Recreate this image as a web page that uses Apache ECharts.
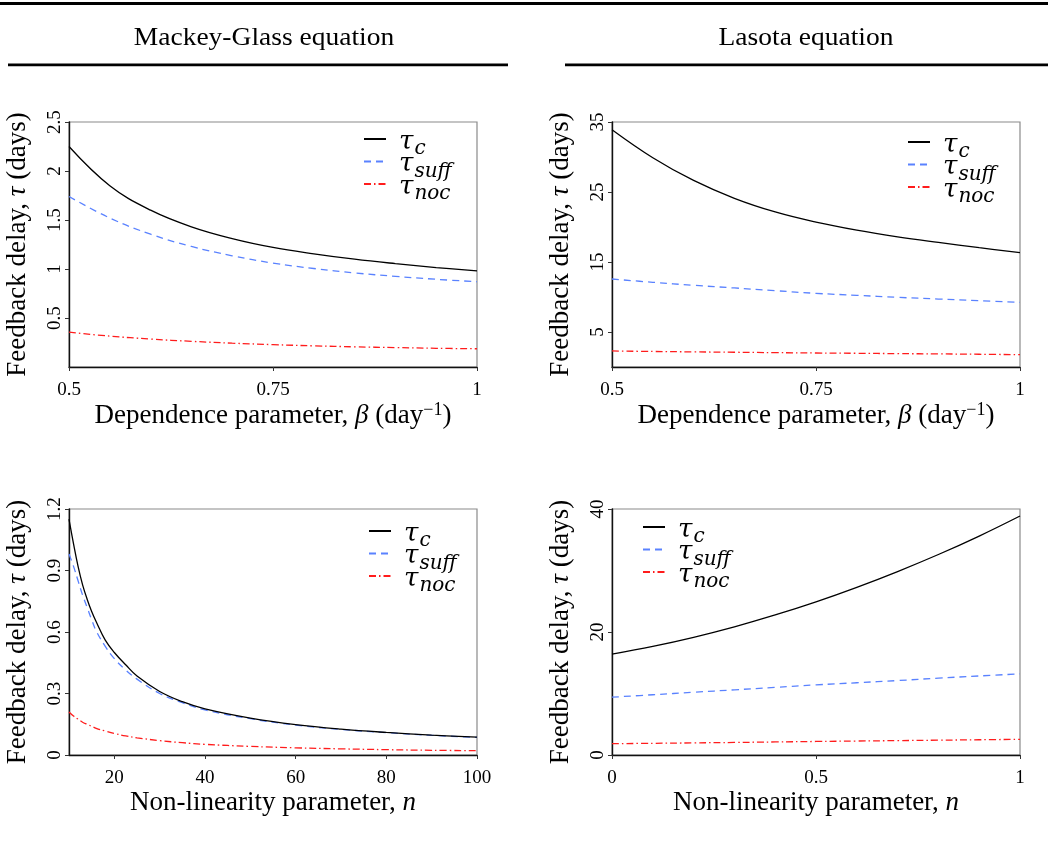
<!DOCTYPE html>
<html>
<head>
<meta charset="utf-8">
<script src="https://cdn.jsdelivr.net/npm/echarts@6/dist/echarts.min.js"></script>
<style>
html,body{margin:0;padding:0;background:#fff;}
#chart{width:1048px;height:851px;}
</style>
</head>
<body>
<div id="chart"></div>
<script>
// ---------- data ----------
const betaGrid = [0.5, 0.55, 0.6, 0.65, 0.7, 0.75, 0.8, 0.85, 0.9, 0.95, 1.0];
// Mackey-Glass vs beta
const mgBetaTauC    = [2.25, 1.85, 1.60, 1.43, 1.31, 1.22, 1.155, 1.10, 1.055, 1.015, 0.98];
const mgBetaTauSuff = [1.74, 1.52, 1.355, 1.23, 1.135, 1.06, 1.005, 0.96, 0.925, 0.895, 0.87];
const mgBetaTauNoc  = [0.355, 0.315, 0.285, 0.262, 0.243, 0.228, 0.216, 0.206, 0.198, 0.191, 0.186];
// Lasota vs beta
const laBetaTauC    = [33.9, 29.9, 26.65, 24.1, 22.15, 20.7, 19.55, 18.6, 17.8, 17.05, 16.35];
const laBetaTauSuff = [12.57, 12.1, 11.67, 11.29, 10.9, 10.52, 10.24, 9.95, 9.71, 9.48, 9.24];
const laBetaTauNoc  = [2.29, 2.22, 2.16, 2.11, 2.05, 2.0, 1.96, 1.91, 1.87, 1.82, 1.76];
// Mackey-Glass vs n
const nGridMG = [10, 11, 12, 13, 14, 15, 16, 18, 20, 22.5, 25, 30, 35, 40, 50, 60, 70, 80, 90, 100];
const mgNTauC    = [1.15, 1.03, 0.92, 0.83, 0.76, 0.70, 0.65, 0.56, 0.50, 0.44, 0.385, 0.31, 0.26, 0.225, 0.18, 0.148, 0.126, 0.11, 0.097, 0.087];
const mgNTauSuff = [0.98, 0.92, 0.85, 0.78, 0.72, 0.66, 0.605, 0.53, 0.47, 0.415, 0.37, 0.30, 0.255, 0.22, 0.177, 0.146, 0.125, 0.109, 0.096, 0.086];
const mgNTauNoc  = [0.21, 0.19, 0.175, 0.16, 0.15, 0.14, 0.13, 0.117, 0.105, 0.093, 0.084, 0.07, 0.06, 0.052, 0.042, 0.035, 0.03, 0.026, 0.023, 0.021];
// Lasota vs n
const nGridLa = [0, 0.1, 0.2, 0.3, 0.4, 0.5, 0.6, 0.7, 0.8, 0.9, 1.0];
const laNTauC    = [16.4, 17.66, 19.14, 20.84, 22.77, 24.9, 27.26, 29.83, 32.6, 35.6, 38.86];
const laNTauSuff = [9.4, 9.8, 10.2, 10.6, 11.0, 11.4, 11.75, 12.1, 12.5, 12.85, 13.2];
const laNTauNoc  = [1.84, 1.9, 1.97, 2.04, 2.12, 2.2, 2.27, 2.34, 2.41, 2.48, 2.55];

// tick labels
const ticksXBeta = [0.5, 0.75, 1];
const ticksYMGBeta = [0.5, 1, 1.5, 2, 2.5];
const ticksYLaBeta = [5, 15, 25, 35];
const ticksXMGN = [20, 40, 60, 80, 100];
const ticksYMGN = [0, 0.3, 0.6, 0.9, 1.2];
const ticksXLaN = [0, 0.5, 1];
const ticksYLaN = [0, 20, 40];

const headers = ['Mackey-Glass equation', 'Lasota equation'];
const seriesNames = ['c', 'suff', 'noc'];

// ---------- styling ----------
const SERIF = '"Liberation Serif", "DejaVu Serif", serif';
const MATH = '"DejaVu Serif", "Liberation Serif", serif';
const COLORS = ['#000000', '#5a82ff', '#ff1c1c'];
const DASHES = ['solid', [7, 5], [7, 3, 1.5, 3]];

const chart = echarts.init(document.getElementById('chart'), null, {renderer: 'canvas'});

const grids = [
  {left: 69, top: 122, width: 408, height: 245},
  {left: 612, top: 122, width: 408, height: 245},
  {left: 69, top: 509, width: 408, height: 246},
  {left: 612, top: 509, width: 408, height: 246}
];

const nameRichBase = {
  n: {fontFamily: SERIF, fontSize: 27, color: '#000', lineHeight: 30},
  i: {fontFamily: SERIF, fontSize: 27, fontStyle: 'italic', color: '#000', lineHeight: 30},
  sup: {fontFamily: SERIF, fontSize: 18, color: '#000', lineHeight: 12, verticalAlign: 'top'}
};

function xAxis(gi, min, max, ticks, name) {
  return {
    type: 'value', gridIndex: gi, min: min, max: max,
    name: name, nameLocation: 'middle', nameGap: 33,
    nameTextStyle: {rich: nameRichBase},
    axisLine: {show: true, onZero: false, lineStyle: {color: '#111', width: 1.4}},
    axisTick: {show: true, inside: false, length: 4, customValues: ticks, lineStyle: {color: '#333', width: 1}},
    axisLabel: {customValues: ticks, fontFamily: SERIF, fontSize: 19, color: '#000', margin: 14},
    splitLine: {show: false}
  };
}
function yAxis(gi, min, max, ticks) {
  return {
    type: 'value', gridIndex: gi, min: min, max: max,
    name: '{n|Feedback delay, }{i|τ}{n| (days)}', nameLocation: 'middle', nameGap: 36, nameRotate: 90,
    nameTextStyle: {rich: nameRichBase},
    axisLine: {show: true, onZero: false, lineStyle: {color: '#111', width: 1.4}},
    axisTick: {show: true, inside: false, length: 4, customValues: ticks, lineStyle: {color: '#333', width: 1}},
    axisLabel: {customValues: ticks, fontFamily: SERIF, fontSize: 19, color: '#000', margin: 4, rotate: 90},
    splitLine: {show: false}
  };
}

const betaName = '{n|Dependence parameter, }{i|β}{n| (day}{sup|−1}{n|)}';
const nName = '{n|Non-linearity parameter, }{i|n}';

const xAxes = [
  xAxis(0, 0.5, 1, ticksXBeta, betaName),
  xAxis(1, 0.5, 1, ticksXBeta, betaName),
  xAxis(2, 10, 100, ticksXMGN, nName),
  xAxis(3, 0, 1, ticksXLaN, nName)
];
const yAxes = [
  yAxis(0, 0, 2.5, ticksYMGBeta),
  yAxis(1, 0, 35, ticksYLaBeta),
  yAxis(2, 0, 1.2, ticksYMGN),
  yAxis(3, 0, 40, ticksYLaN)
];

function pairs(xs, ys) { return xs.map((x, k) => [x, ys[k]]); }

const panelData = [
  [betaGrid, [mgBetaTauC, mgBetaTauSuff, mgBetaTauNoc]],
  [betaGrid, [laBetaTauC, laBetaTauSuff, laBetaTauNoc]],
  [nGridMG, [mgNTauC, mgNTauSuff, mgNTauNoc]],
  [nGridLa, [laNTauC, laNTauSuff, laNTauNoc]]
];

const series = [];
panelData.forEach((pd, gi) => {
  pd[1].forEach((ys, si) => {
    series.push({
      type: 'line', name: seriesNames[si], xAxisIndex: gi, yAxisIndex: gi,
      data: pairs(pd[0], ys), symbol: 'none', showSymbol: false, smooth: 0.4,
      color: COLORS[si],
      lineStyle: {color: COLORS[si], width: 1.3, type: DASHES[si]},
      silent: true, z: 3 - si
    });
  });
});

const legendRich = {
  t: {fontFamily: MATH, fontSize: 26, fontStyle: 'italic', color: '#000', lineHeight: 30, verticalAlign: 'top', padding: [5, 1, 0, 8]},
  s: {fontFamily: MATH, fontSize: 20, fontStyle: 'italic', color: '#000', lineHeight: 20, verticalAlign: 'top', padding: [15, 0, 0, 0]}
};
function legend(left, top) {
  return {
    data: seriesNames, left: left, top: top, orient: 'vertical',
    itemWidth: 22, itemHeight: 14, itemGap: -12.5, padding: 0,
    selectedMode: false,
    itemStyle: {opacity: 0, borderWidth: 0},
    formatter: function (nm) { return '{t|τ}{s|' + nm + '}'; },
    textStyle: {rich: legendRich}
  };
}
const legends = [
  legend(363, 124),
  legend(907, 127),
  legend(368, 516),
  legend(642, 512)
];

const graphic = [
  {type: 'rect', shape: {x: 0, y: 2, width: 1048, height: 3}, style: {fill: '#000'}},
  {type: 'rect', shape: {x: 8, y: 63.5, width: 500, height: 2.8}, style: {fill: '#000'}},
  {type: 'rect', shape: {x: 565, y: 63.5, width: 483, height: 2.8}, style: {fill: '#000'}},
  {type: 'text', x: 264, y: 38, scaleX: 1.1, style: {text: headers[0], fontFamily: SERIF, fontSize: 25, fill: '#000', textAlign: 'center', textVerticalAlign: 'middle'}},
  {type: 'text', x: 806, y: 38, scaleX: 1.1, style: {text: headers[1], fontFamily: SERIF, fontSize: 25, fill: '#000', textAlign: 'center', textVerticalAlign: 'middle'}}
];

chart.setOption({
  animation: false,
  backgroundColor: '#fff',
  graphic: graphic,
  grid: grids.map(g => Object.assign({show: true, borderColor: '#8a8a8a', borderWidth: 1.2, backgroundColor: 'transparent'}, g)),
  xAxis: xAxes,
  yAxis: yAxes,
  legend: legends,
  series: series
});
</script>
</body>
</html>
